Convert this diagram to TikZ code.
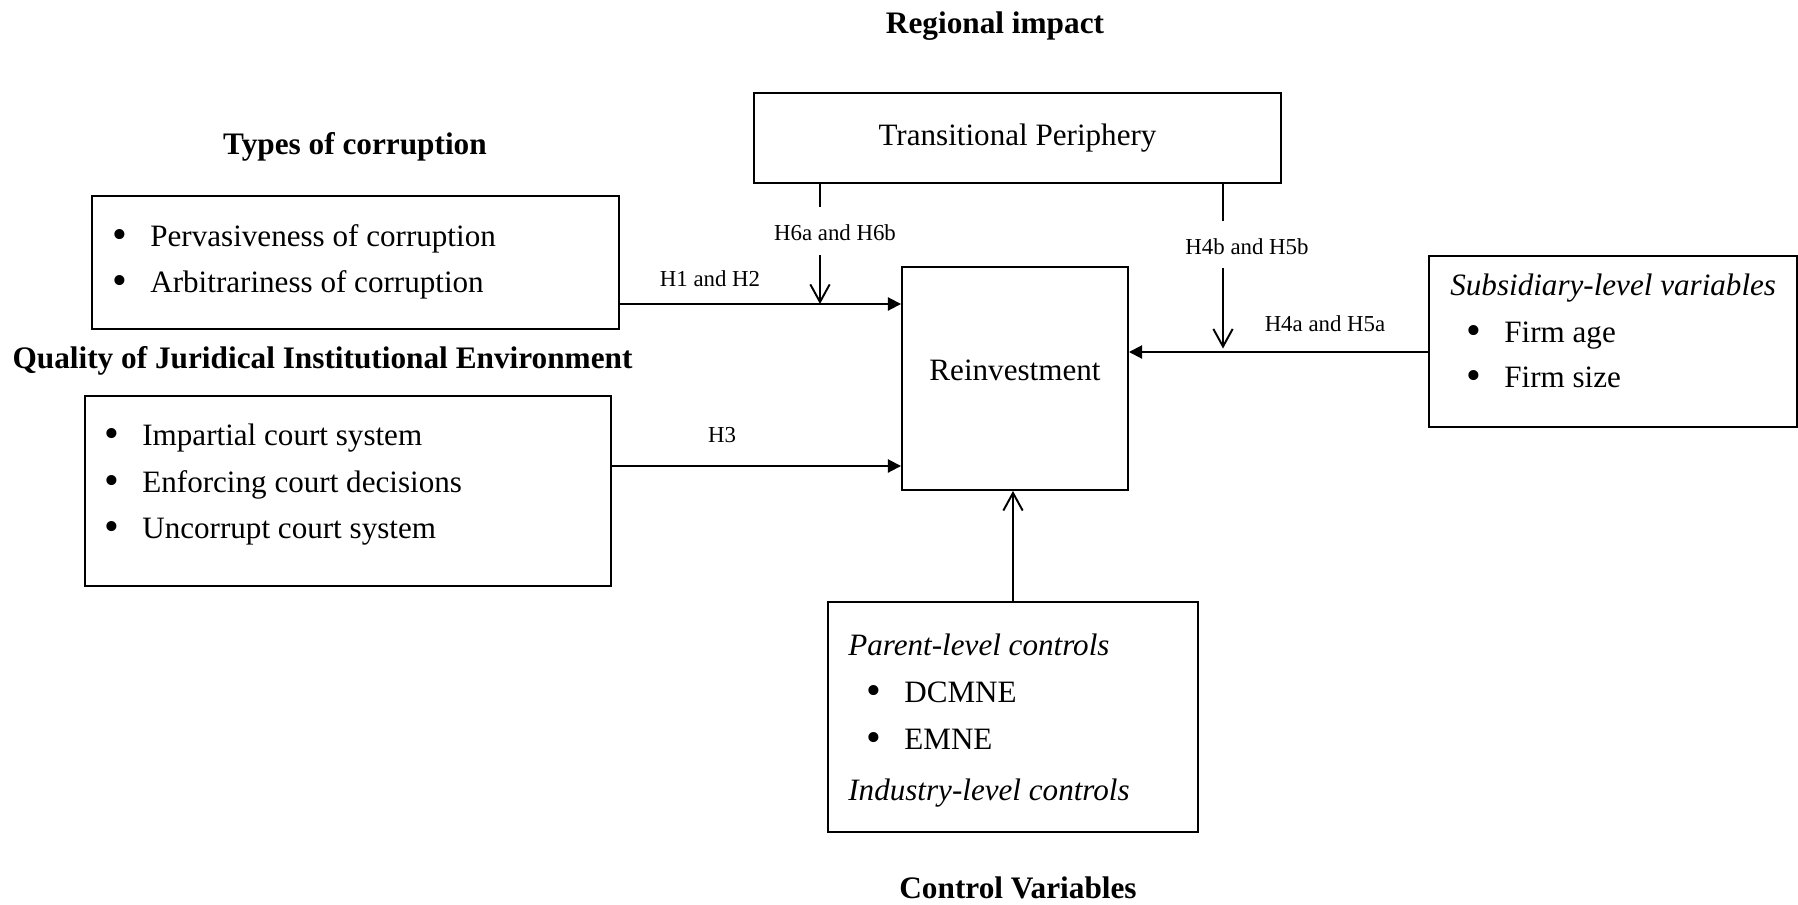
\documentclass[tikz,border=0pt]{standalone}
\usepackage{fontspec}
\setmainfont{Liberation Serif}
\usetikzlibrary{arrows.meta}
\newcommand{\bp}{\makebox[0.72cm][l]{\hspace{-1pt}\raisebox{-1.6pt}{\fontsize{24}{20}\selectfont\textbullet}}}

\begin{document}
\begin{tikzpicture}[
    box/.style={draw, line width=1.1pt, inner sep=0pt, font=\fontsize{17.7}{20}\selectfont},
    txt/.style={anchor=base west, inner sep=0pt, font=\fontsize{17.7}{20}\selectfont},
    title/.style={anchor=base, inner sep=0pt, font=\fontsize{17.8}{20}\selectfont\bfseries},
    hlab/.style={inner sep=0pt, font=\fontsize{13}{15}\selectfont},
    stub/.style={line width=1.1pt},
    main/.style={line width=1.1pt, -{Triangle[length=7.5pt,width=7.5pt]}},
    mod/.style={line width=1.1pt, -{Straight Barb[length=10pt,width=11pt]}}
]
            \useasboundingbox (0,0) rectangle (35.96,-18.1);

            % titles
            \node[title] (regtitle) at (19.9,-0.68) {Regional impact};
            \node[title] (typetitle) at (7.1,-3.1) {Types of corruption};
            \node[title] (courttitle) at (6.45,-7.36) {Quality of Juridical Institutional Environment};
            \node[title] (ctrltitle) at (20.36,-17.96) {Control Variables};

            % boxes
            \node[box, minimum width=10.54cm, minimum height=1.8cm] (trans) at (20.35,-2.76) {Transitional Periphery};
            \node[box, minimum width=10.54cm, minimum height=2.66cm] (types) at (7.11,-5.25) {};
            \node[box, minimum width=10.52cm, minimum height=3.8cm] (court) at (6.96,-9.82) {};
            \node[box, minimum width=4.52cm, minimum height=4.46cm] (reinv) at (20.3,-7.57) {\raisebox{0.32cm}{Reinvestment}};
            \node[box, minimum width=7.4cm, minimum height=4.6cm] (ctrl) at (20.26,-14.34) {};
            \node[box, minimum width=7.36cm, minimum height=3.42cm] (subs) at (32.26,-6.83) {};

            % box contents
            \node[txt] (t1) at (2.28,-4.92) {\bp Pervasiveness of corruption};
            \node[txt] (t2) at (2.28,-5.84) {\bp Arbitrariness of corruption};

            \node[txt] (c1) at (2.12,-8.9) {\bp Impartial court system};
            \node[txt] (c2) at (2.12,-9.84) {\bp Enforcing court decisions};
            \node[txt] (c3) at (2.12,-10.76) {\bp Uncorrupt court system};

            \node[txt] (p0) at (16.96,-13.1) {\textit{Parent-level controls}};
            \node[txt] (p1) at (17.36,-14.04) {\bp DCMNE};
            \node[txt] (p2) at (17.36,-14.98) {\bp EMNE};
            \node[txt] (p3) at (16.96,-16.0) {\textit{Industry-level controls}};

            \node[txt] (s0) at (29.0,-5.9) {\textit{Subsidiary-level variables}};
            \node[txt] (s1) at (29.36,-6.84) {\bp Firm age};
            \node[txt] (s2) at (29.36,-7.74) {\bp Firm size};

            % direct effects
            \coordinate (h12) at ([yshift=-0.83cm]types.east);
            \coordinate (h3) at ([yshift=0.5cm]court.east);
            \coordinate (h45) at ([yshift=-0.21cm]subs.west);
            \draw[main] (h12) -- (h12 -| reinv.west);
            \draw[main] (h3) -- (h3 -| reinv.west);
            \draw[main] (h45) -- (h45 -| reinv.east);
            \draw[mod] (ctrl.north) -- (ctrl.north |- reinv.south);

            \node[hlab] (h12lab) at (14.2,-5.58) {H1 and H2};
            \node[hlab] (h3lab) at (14.44,-8.7) {H3};
            \node[hlab] (h45lab) at (26.5,-6.48) {H4a and H5a};

            % moderating effects
            \coordinate (m6) at (16.4,-4.14);
            \coordinate (m4) at (24.46,-4.42);
            \node[hlab] (h6lab) at (16.7,-4.66) {H6a and H6b};
            \node[hlab] (h4lab) at (24.94,-4.94) {H4b and H5b};
            \draw[stub] (m6 |- trans.south) -- (m6);
            \draw[mod] (m6 |- 0,-5.1) -- (m6 |- h12);
            \draw[stub] (m4 |- trans.south) -- (m4);
            \draw[mod] (m4 |- 0,-5.36) -- (m4 |- 0,-6.97);

            \end{tikzpicture}
\end{document}
